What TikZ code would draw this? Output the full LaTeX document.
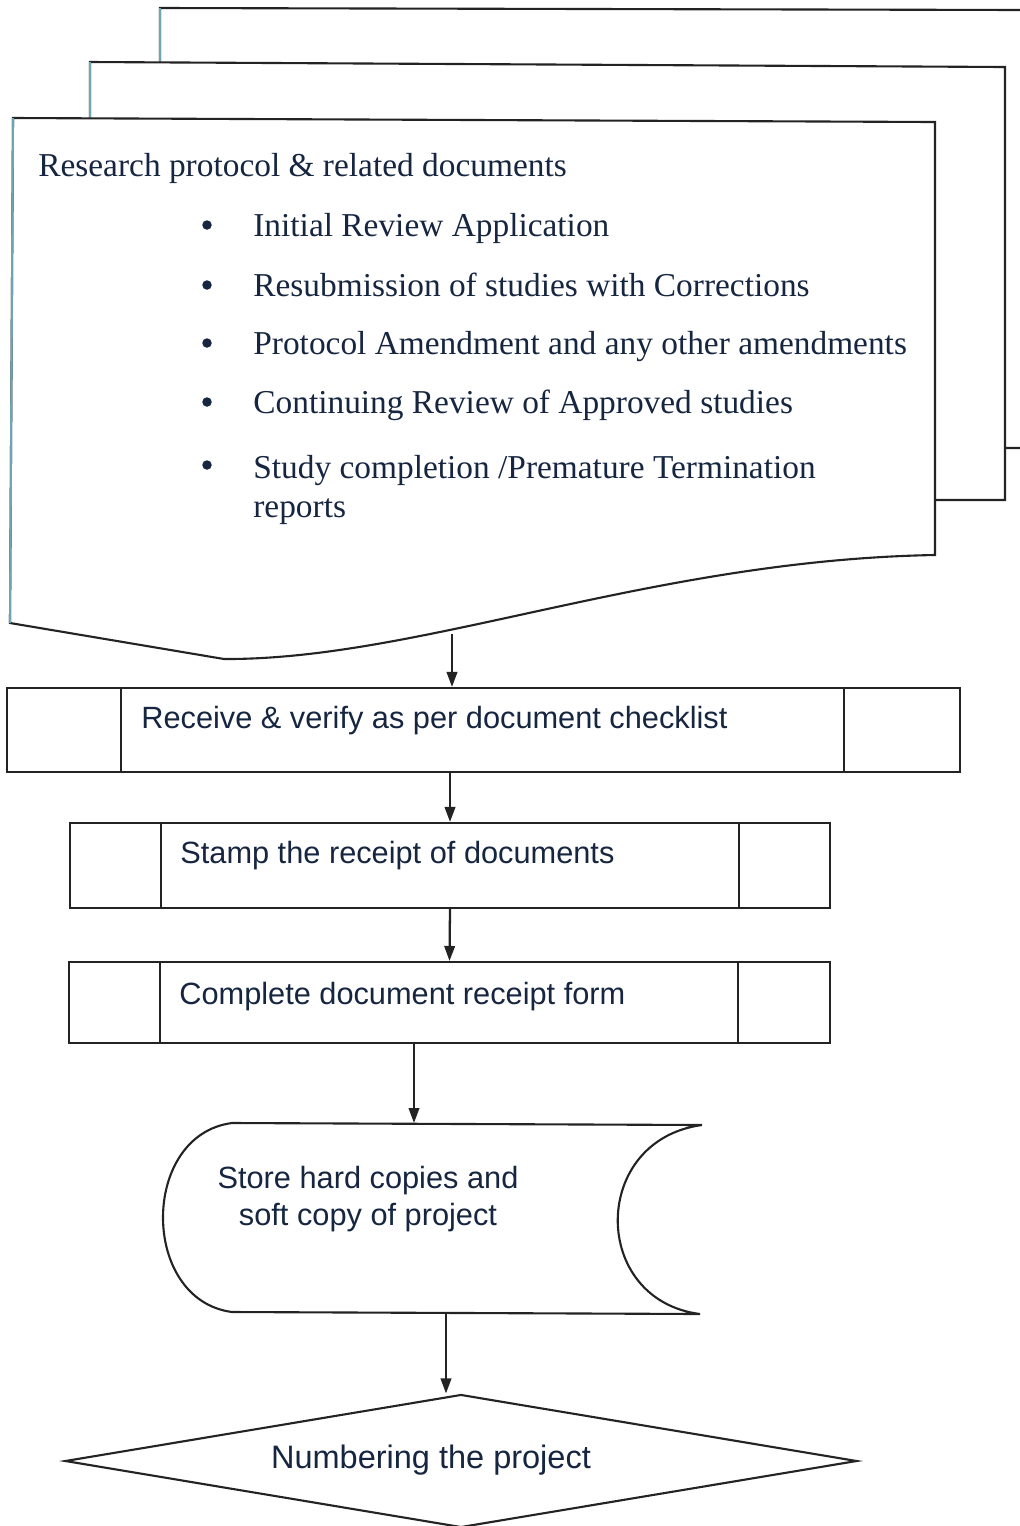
\documentclass[tikz,border=0pt]{standalone}
\usepackage{fontspec}
\setmainfont{Liberation Serif}
\newfontfamily\flowfont{Liberation Sans}
\usetikzlibrary{calc,arrows.meta,shapes.geometric}

\definecolor{inkblue}{RGB}{22,38,64}
\definecolor{edgeteal}{RGB}{110,165,180}
\definecolor{lineg}{RGB}{35,35,35}

\tikzset{
  page/.style={draw=lineg,line width=1.2pt,fill=white},
  pageedge/.style={draw=edgeteal,line width=1.2pt},
  doctext/.style={anchor=mid west,inner sep=0pt,text=inkblue,font=\fontsize{19}{22}\selectfont},
  dot/.style={circle,fill=inkblue,inner sep=0pt,minimum size=0.19cm},
  procbox/.style={draw=lineg,line width=1.2pt,rectangle,inner sep=0pt},
  proctext/.style={anchor=mid west,inner sep=0pt,text=inkblue,font=\flowfont\fontsize{17.5}{21}\selectfont},
  flowtext/.style={inner sep=0pt,text=inkblue,font=\flowfont\fontsize{17.5}{21}\selectfont},
  flow/.style={draw=lineg,line width=1.3pt,-{Triangle[length=0.3cm,width=0.21cm]}}
}

\begin{document}
\begin{tikzpicture}[x=0.02cm,y=-0.02cm]
\useasboundingbox (0,0) rectangle (1020,1526);

% stack of pages
\draw[page] (160,8) -- (1024,10) -- (1024,448) -- (160,448) -- cycle;
\draw[pageedge] (160,62) -- (160,8);
\draw[page] (90,62) -- (1005,67) -- (1005,500) -- (90,500) -- cycle;
\draw[pageedge] (90,118) -- (90,62);
\draw[page] (13,118) -- (935,122) -- (935,555) .. controls (650,560) and (420,660) .. (224,659) -- (10,623) -- cycle;
\draw[pageedge] (10,623) -- (13,118);
\coordinate (docout) at (452,634);

\node[doctext] (heading) at (38,172) {Research protocol \& related documents};
\node[dot] (dotA) at (207,225) {};
\node[doctext] (itemA) at (253,232) {Initial Review Application};
\node[dot] (dotB) at (207,285) {};
\node[doctext] (itemB) at (253,292) {Resubmission of studies with Corrections};
\node[dot] (dotC) at (207,343) {};
\node[doctext] (itemC) at (253,350) {Protocol Amendment and any other amendments};
\node[dot] (dotD) at (207,402) {};
\node[doctext] (itemD) at (253,409) {Continuing Review of Approved studies};
\node[dot] (dotE) at (207,465) {};
\node[doctext,anchor=west,align=left] (itemE) at (253,490) {Study completion /Premature Termination\\reports};

% process boxes
\node[procbox,minimum width=19.06cm,minimum height=1.68cm] (receive) at (483.5,730) {};
\draw[procbox] ($(receive.north west)+(115,0)$) -- ($(receive.south west)+(115,0)$);
\draw[procbox] ($(receive.north east)-(117,0)$) -- ($(receive.south east)-(117,0)$);
\node[proctext] (receivetxt) at (141,724) {Receive \& verify as per document checklist};

\node[procbox,minimum width=15.2cm,minimum height=1.7cm] (stamp) at (450,865.5) {};
\draw[procbox] ($(stamp.north west)+(92,0)$) -- ($(stamp.south west)+(92,0)$);
\draw[procbox] ($(stamp.north east)-(92,0)$) -- ($(stamp.south east)-(92,0)$);
\node[proctext] (stamptxt) at (180,859) {Stamp the receipt of documents};

\node[procbox,minimum width=15.22cm,minimum height=1.62cm] (complete) at (449.5,1002.5) {};
\draw[procbox] ($(complete.north west)+(92,0)$) -- ($(complete.south west)+(92,0)$);
\draw[procbox] ($(complete.north east)-(93,0)$) -- ($(complete.south east)-(93,0)$);
\node[proctext] (completetxt) at (179,1000) {Complete document receipt form};

% stored data
\draw[page] (232,1123) -- (702,1125) .. controls (590,1140) and (590,1300) .. (700,1314)
  -- (232,1312) .. controls (140,1300) and (140,1135) .. (232,1123) -- cycle;
\coordinate (storein) at (414,1123);
\coordinate (storeout) at (446,1313);
\node[flowtext,align=center] (store) at (368,1199) {Store hard copies and\\soft copy of project};

% decision
\node[diamond,draw=lineg,line width=1.2pt,minimum width=15.84cm,minimum height=2.66cm,inner sep=0pt] (numbering) at (461,1461) {};
\node[flowtext,font=\flowfont\fontsize{18.5}{22}\selectfont] (numbertxt) at (431,1460) {Numbering the project};

\draw[flow] (docout) -- (docout |- receive.north);
\draw[flow] (stamp.north |- receive.south) -- (stamp.north);
\draw[flow] (stamp.south) -- (complete.north);
\draw[flow] (complete.south -| storein) -- (storein);
\draw[flow] (storeout) -- (storeout |- numbering.north);

\end{tikzpicture}
\end{document}
